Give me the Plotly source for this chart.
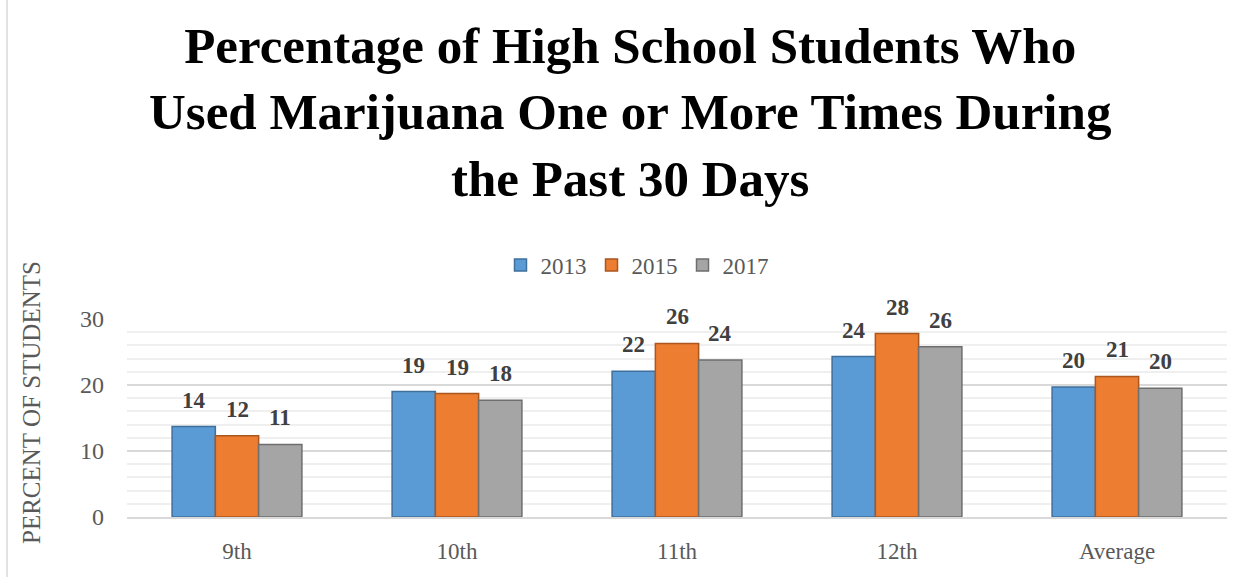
import plotly.graph_objects as go

categories = ["9th", "10th", "11th", "12th", "Average"]
years = ["2013", "2015", "2017"]
values_2013 = [13.7, 19.0, 22.1, 24.3, 19.7]
values_2015 = [12.3, 18.7, 26.3, 27.8, 21.3]
values_2017 = [11.0, 17.7, 23.8, 25.8, 19.5]
labels_2013 = ["14", "19", "22", "24", "20"]
labels_2015 = ["12", "19", "26", "28", "21"]
labels_2017 = ["11", "18", "24", "26", "20"]
y_ticks = [0, 10, 20, 30]

series = [values_2013, values_2015, values_2017]
labels = [labels_2013, labels_2015, labels_2017]
fills = ["#5B9BD5", "#ED7D31", "#A5A5A5"]
edges = ["#3F6F9C", "#A9561F", "#6E6E6E"]

SERIF = "Liberation Serif"
W, H = 1253, 577
ML, MR, MT, MB = 127, 26, 319, 60
plot_w = W - ML - MR
plot_h = H - MT - MB
bargap = 0.41
bar_px = plot_w / len(categories) * (1 - bargap) / 3

fig = go.Figure()
for i, (yr, vals) in enumerate(zip(years, series)):
    fig.add_trace(go.Bar(
        x=categories, y=vals, name=yr,
        marker=dict(color=fills[i], line=dict(color=edges[i], width=1.5)),
    ))
    for c, v, t in zip(categories, vals, labels[i]):
        fig.add_annotation(
            x=c, y=v, text=f"<b>{t}</b>", showarrow=False,
            xref="x", yref="y", yanchor="bottom",
            xshift=(i - 1) * bar_px, yshift=12,
            font=dict(family=SERIF, size=23, color="#404040"),
        )

# Chart title
fig.add_annotation(
    text="<b>Percentage of High School Students Who<br>Used Marijuana One or More Times During<br>the Past 30 Days</b>",
    xref="paper", yref="paper", x=(630 - ML) / plot_w, y=(H - MB - 16) / plot_h,
    xanchor="center", yanchor="top", showarrow=False,
    font=dict(family=SERIF, size=51, color="black"),
)
# Y axis title
fig.add_annotation(
    text="PERCENT OF STUDENTS", textangle=-90,
    xref="paper", yref="paper", x=(31 - ML) / plot_w, y=(H - MB - 402) / plot_h,
    xanchor="center", yanchor="middle", showarrow=False,
    font=dict(family=SERIF, size=25, color="#595959"),
)

fig.update_layout(
    width=W, height=H,
    margin=dict(l=ML, r=MR, t=MT, b=MB, autoexpand=False),
    paper_bgcolor="white", plot_bgcolor="white",
    barmode="group", bargap=bargap, bargroupgap=0,
    legend=dict(
        orientation="h", x=(637 - ML) / plot_w, xanchor="center",
        y=(H - MB - 265) / plot_h, yanchor="middle",
        font=dict(family=SERIF, size=23, color="#595959"),
        itemwidth=30, traceorder="normal",
    ),
    xaxis=dict(
        automargin=False,
        showline=True, linecolor="#D9D9D9", linewidth=1.5,
        ticks="", ticklabelstandoff=13,
        tickfont=dict(family=SERIF, size=23, color="#595959"),
    ),
    yaxis=dict(
        automargin=False,
        range=[0, 30], tickvals=y_ticks, showline=False, zeroline=False,
        showgrid=True, gridcolor="#D9D9D9", gridwidth=1.5,
        minor=dict(dtick=2, showgrid=True, gridcolor="#EFEFEF", gridwidth=1.5),
        tickfont=dict(family=SERIF, size=24, color="#595959"),
        ticklabelstandoff=22,
    ),
)
fig.add_shape(type="line", xref="paper", yref="paper",
              x0=(7 - ML) / plot_w, x1=(7 - ML) / plot_w,
              y0=-MB / plot_h, y1=(H - MB) / plot_h,
              line=dict(color="#D9D9D9", width=1.5))
fig.write_html("out.html", config={"displayModeBar": False},
               post_script="document.body.style.margin='0';document.body.style.overflow='hidden';")
